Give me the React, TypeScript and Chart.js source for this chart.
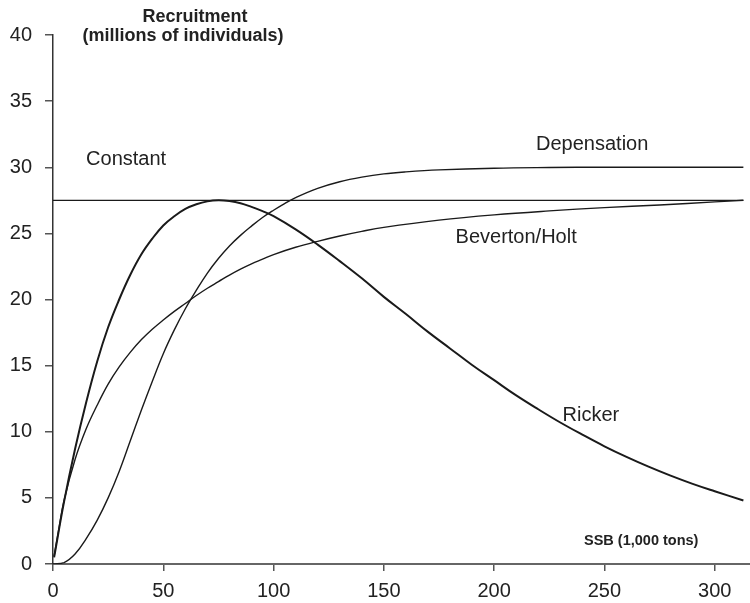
import React, { useEffect, useRef } from "react";
import { Chart, registerables } from "chart.js";

Chart.register(...registerables);

// SSB (1,000 tons) and recruitment (millions)
const ssbRicker = [0.5, 5, 10, 15, 20, 25, 30, 35, 40, 45, 50, 55, 60, 65, 70, 75, 80, 85, 90, 95, 100, 110, 120, 130, 140, 150, 160, 170, 180, 190, 200, 210, 220, 230, 240, 250, 260, 270, 280, 290, 300, 313];
const recRicker = [0.5, 4.7, 8.7, 12.2, 15.3, 17.9, 20.0, 21.85, 23.4, 24.6, 25.6, 26.3, 26.85, 27.2, 27.42, 27.5, 27.44, 27.28, 27.0, 26.68, 26.3, 25.3, 24.15, 22.9, 21.6, 20.2, 18.9, 17.55, 16.3, 15.05, 13.9, 12.75, 11.7, 10.7, 9.78, 8.9, 8.1, 7.36, 6.68, 6.06, 5.5, 4.8];

const ssbBH = [0.5, 2.5, 5, 10, 15, 20, 25, 30, 35, 40, 45, 50, 55, 60, 65, 70, 75, 80, 85, 90, 95, 100, 110, 120, 130, 140, 150, 175, 200, 225, 250, 275, 300, 313];
const recBH = [0.6, 2.5, 4.8, 7.9, 10.2, 12.0, 13.6, 14.9, 16.0, 16.95, 17.75, 18.45, 19.1, 19.7, 20.3, 20.85, 21.35, 21.85, 22.3, 22.7, 23.05, 23.4, 23.95, 24.4, 24.8, 25.15, 25.45, 26.0, 26.4, 26.7, 26.95, 27.15, 27.38, 27.5];

const ssbDep = [0, 5, 10, 15, 20, 25, 30, 35, 40, 45, 50, 55, 60, 65, 70, 75, 80, 85, 90, 95, 100, 105, 110, 120, 130, 140, 150, 160, 175, 200, 225, 250, 313];
const recDep = [0, 0.1, 0.75, 1.9, 3.3, 5.0, 7.0, 9.3, 11.6, 13.8, 15.9, 17.7, 19.3, 20.7, 22.0, 23.1, 24.05, 24.85, 25.55, 26.2, 26.75, 27.25, 27.7, 28.4, 28.9, 29.25, 29.5, 29.65, 29.8, 29.93, 29.98, 30.0, 30.0];

const ssbConst = [0, 313];
const recConst = [27.5, 27.5];

const xTicks = [0, 50, 100, 150, 200, 250, 300];
const yTicks = [0, 5, 10, 15, 20, 25, 30, 35, 40];

const curveLabels = [
  { text: "Constant", x: 15, y: 30.2 },
  { text: "Depensation", x: 219, y: 31.3 },
  { text: "Beverton/Holt", x: 182.5, y: 24.3 },
  { text: "Ricker", x: 231, y: 10.8 },
];

const FONT = '"Liberation Sans", Arial, Helvetica, sans-serif';
const INK = "#222222";

const toPts = (xs: number[], ys: number[]) => xs.map((x, i) => ({ x, y: ys[i] }));

const textPlugin = {
  id: "textPlugin",
  afterDraw(chart: any) {
    const ctx = chart.ctx as CanvasRenderingContext2D;
    const xs = chart.scales.x;
    const ys = chart.scales.y;
    ctx.save();
    ctx.fillStyle = INK;
    ctx.textBaseline = "alphabetic";
    ctx.textAlign = "left";
    ctx.font = `20px ${FONT}`;
    for (const l of curveLabels) {
      ctx.fillText(l.text, xs.getPixelForValue(l.x), ys.getPixelForValue(l.y));
    }
    ctx.font = `bold 18px ${FONT}`;
    ctx.textAlign = "center";
    ctx.fillText("Recruitment", 195, 22);
    ctx.fillText("(millions of individuals)", 183, 41);
    ctx.font = `bold 14.5px ${FONT}`;
    ctx.textAlign = "left";
    ctx.fillText("SSB (1,000 tons)", 584, 545);
    ctx.restore();
  },
};

export default function App() {
  const ref = useRef<HTMLCanvasElement | null>(null);
  useEffect(() => {
    if (!ref.current) return;
    const lineDs = (data: any[], width: number) => ({
      data,
      borderColor: "#1a1a1a",
      borderWidth: width,
      pointRadius: 0,
      fill: false,
      tension: 0.4,
    });
    const chart = new Chart(ref.current, {
      type: "line",
      data: {
        datasets: [
          lineDs(toPts(ssbConst, recConst), 1.3),
          lineDs(toPts(ssbDep, recDep), 1.4),
          lineDs(toPts(ssbBH, recBH), 1.4),
          lineDs(toPts(ssbRicker, recRicker), 2),
        ],
      },
      options: {
        animation: false,
        responsive: false,
        devicePixelRatio: 1,
        layout: { padding: { top: 35, right: 0, bottom: 0, left: 0 } },
        plugins: { legend: { display: false }, tooltip: { enabled: false } },
        scales: {
          x: {
            type: "linear",
            min: 0,
            max: 316,
            afterBuildTicks: (s: any) => {
              s.ticks = xTicks.map((v) => ({ value: v }));
            },
            afterFit: (s: any) => {
              s.height = 39;
            },
            grid: { drawOnChartArea: false, drawTicks: true, tickLength: 7, color: "#555", lineWidth: 1.5 },
            border: { display: true, color: "#666", width: 2 },
            ticks: { color: INK, font: { family: FONT, size: 20 }, padding: 8, maxRotation: 0 },
          },
          y: {
            type: "linear",
            min: 0,
            max: 40,
            afterBuildTicks: (s: any) => {
              s.ticks = yTicks.map((v) => ({ value: v }));
            },
            afterFit: (s: any) => {
              s.width = 53;
            },
            grid: { drawOnChartArea: false, drawTicks: true, tickLength: 8, color: "#555", lineWidth: 1.5 },
            border: { display: true, color: "#333", width: 1.5 },
            ticks: { color: INK, font: { family: FONT, size: 20 }, padding: 13 },
          },
        },
      },
      plugins: [textPlugin],
    });
    return () => chart.destroy();
  }, []);
  return (
    <div style={{ position: "absolute", left: 0, top: 0, width: 750, height: 603, background: "#fff" }}>
      <canvas ref={ref} width={750} height={603} style={{ display: "block" }} />
    </div>
  );
}
